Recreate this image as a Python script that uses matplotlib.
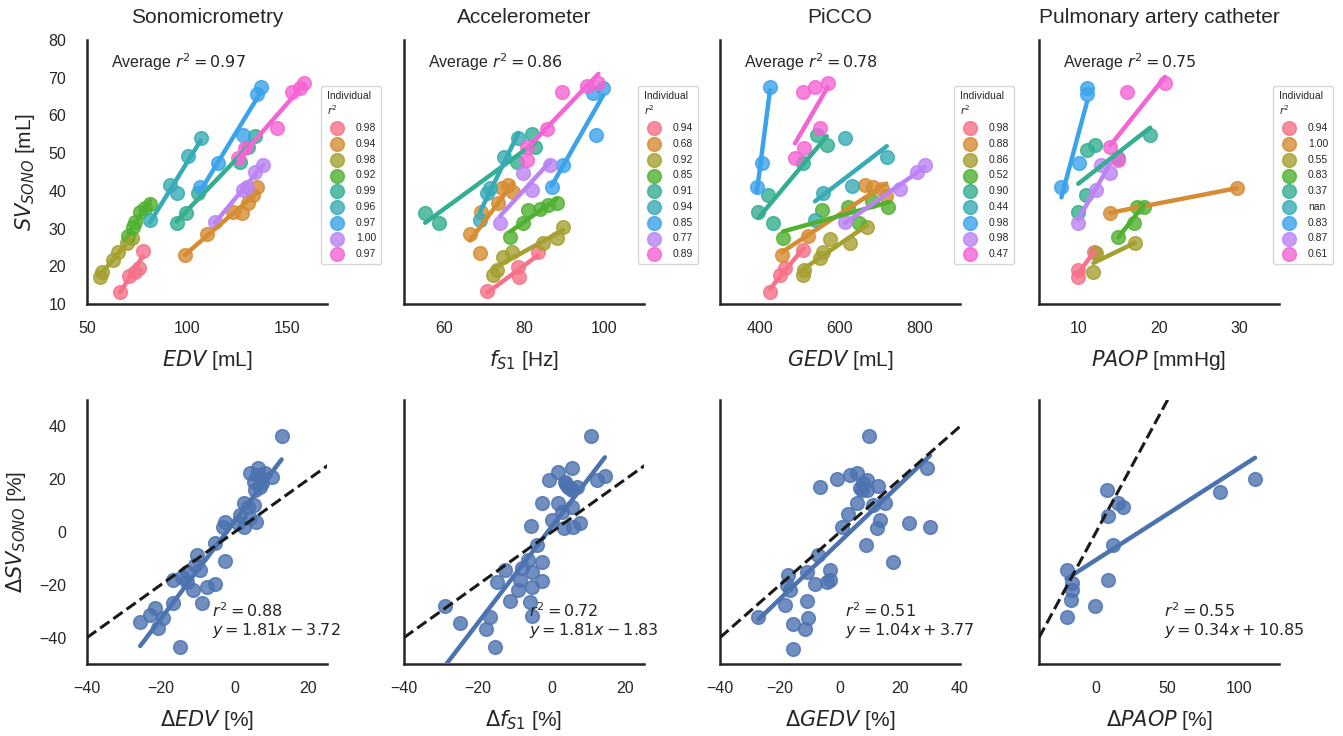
import numpy as np
import matplotlib
matplotlib.use('Agg')
import matplotlib.pyplot as plt
import seaborn as sns

sns.set_theme(style='white')
plt.rcParams['font.family'] = ['Liberation Sans', 'DejaVu Sans']
plt.rcParams['axes.unicode_minus'] = True

# stroke volume per subject (sonomicrometry), one list per subject and method
edv_x = [[66.5, 71.2, 74, 75.8, 77.8],
         [99, 109.8, 123.2, 127.3, 130.7, 133.2, 134.8],
         [56.5, 57.3, 63.2, 65.7, 69.8, 72.3],
         [70.7, 73.2, 74, 76.5, 79, 81.5],
         [94.8, 99.5, 105.7, 126.5, 130.7, 134],
         [81.5, 91.5, 94.8, 100.7, 106.8],
         [106.5, 115.7, 127.8, 134.8, 136.8],
         [114, 128.2, 130, 134, 138.2],
         [125.7, 129, 144.8, 152.3, 156.5, 158.5]]
edv_y = [[13.3, 17.4, 18.6, 19.5, 24.1],
         [23.0, 28.6, 34.5, 34.0, 36.7, 38.9, 41.1],
         [17.2, 18.5, 21.7, 23.9, 26.1, 27.4],
         [27.9, 30.5, 31.8, 34.5, 35.4, 36.5],
         [31.4, 34.2, 39.4, 47.7, 51.7, 54.6],
         [32.3, 41.6, 39.4, 49.2, 53.9],
         [41.1, 47.3, 54.8, 65.7, 67.5],
         [31.8, 40.2, 41.0, 45.1, 46.9],
         [48.6, 51.3, 56.6, 66.3, 67.2, 68.5]]
edv_r2 = ['0.98', '0.94', '0.98', '0.92', '0.99', '0.96', '0.97', '1.00', '0.97']

fs1_x = [[70.8, 78.6, 78.8, 83.6],
         [66.5, 69, 69.3, 73.6, 74.4, 76.1, 77.3],
         [72.3, 73.2, 74.8, 76.9, 84.8, 88.2, 89.8],
         [76.5, 79.8, 81.1, 84, 86.1, 88.2],
         [55.3, 58.8, 78.2, 81.9, 82.8],
         [69, 70.8, 71.5, 75, 78.6],
         [86.9, 89.8, 98, 97.2, 99.8],
         [74, 81.9, 79.8, 86.5],
         [80.7, 80.7, 85.7, 89.4, 95.7, 98.6]]
fs1_y = [[13.5, 19.7, 17.2, 23.9],
         [28.6, 23.4, 34.5, 36.7, 40.7, 41.6, 39.8],
         [17.7, 19.0, 22.5, 23.9, 26.1, 27.4, 30.5],
         [27.7, 31.4, 34.9, 35.3, 36.3, 36.7],
         [34.2, 31.4, 47.7, 55.1, 51.7],
         [32.3, 39.4, 40.7, 49.1, 53.9],
         [41.1, 46.9, 54.8, 65.9, 67.2],
         [31.6, 40.2, 44.7, 46.9],
         [51.7, 48.2, 56.3, 66.3, 67.8, 68.5]]
fs1_r2 = ['0.94', '0.68', '0.92', '0.85', '0.91', '0.94', '0.85', '0.77', '0.89']

gedv_x = [[425, 450, 462.5, 508],
          [454, 519, 662.5, 683, 704, 716],
          [508, 510, 550, 558, 575, 625, 667],
          [458, 554, 619, 647.5, 679, 721],
          [421, 396, 433, 508, 542, 567],
          [612.5, 537.5, 558, 629, 717],
          [425, 404, 392],
          [612.5, 750, 792, 812.5],
          [508, 537.5, 569, 550, 511, 487.5]]
gedv_y = [[13.3, 17.7, 19.5, 24.3],
          [23.0, 28.0, 41.6, 41.1, 40.5, 38.6],
          [17.7, 19.0, 22.1, 23.9, 27.2, 26.1, 30.5],
          [27.4, 34.9, 35.8, 31.4, 37.4, 35.8],
          [38.9, 34.5, 31.4, 47.3, 54.8, 52.2],
          [53.9, 32.3, 39.4, 41.3, 49.1],
          [67.5, 47.3, 41.1],
          [31.8, 40.4, 45.1, 46.9],
          [66.3, 67.5, 68.7, 56.6, 51.3, 48.6]]
gedv_r2 = ['0.98', '0.88', '0.86', '0.52', '0.90', '0.44', '0.98', '0.98', '0.47']

paop_x = [[9.9, 9.9, 11.9],
          [13.9, 29.7],
          [11.8, 12.1, 17],
          [14.9, 16.9, 17.2, 18.1],
          [9.9, 10.9, 11.0, 12.0, 18.9],
          [14.9],
          [11.0, 11.0, 10.0, 7.8],
          [9.9, 12.1, 12.8, 13.9],
          [16.0, 13.9, 14.9, 20.75]]
paop_y = [[19.0, 17.2, 23.9],
          [34.2, 40.7],
          [18.6, 23.6, 26.1],
          [27.7, 31.4, 35.8, 35.8],
          [34.5, 38.9, 50.8, 52.2, 54.8],
          [48.6],
          [67.2, 65.7, 47.3, 40.9],
          [31.6, 40.2, 46.9, 44.7],
          [66.3, 51.5, 48.2, 68.5]]
paop_r2 = ['0.94', '1.00', '0.55', '0.83', '0.37', 'nan', '0.83', '0.87', '0.61']

# pooled relative changes [%]
d_edv = [12.7, 4.1, 6.4, 8.2, 10.0, 5.1, 6.9, 5.5, 7.5, 2.4, 3.7, 5.1, 1.4, 1.0, 4.1, 5.9,
         2.4, -2.6, -3.1, -5.3, -2.6, -10.3, -10.7, -9.4, -13.0, -14.3, -16.6, -13.0,
         -11.2, -7.6, -5.3, -8.9, -16.6, -21.6, -22.9, -25.6, -19.3, -20.7, -14.8, 7.0, 6.0]
d_sv1 = [36.4, 22.2, 24.1, 22.2, 20.7, 19.1, 17.2, 16.0, 18.5, 10.9, 9.6, 10.2, 6.4, 3.3, 5.2, 3.9,
         2.0, 3.9, 2.0, -4.3, -10.9, -8.8, -12.6, -14.5, -15.2, -17.0, -18.3, -18.9,
         -22.1, -20.8, -19.6, -26.9, -26.9, -28.8, -31.4, -34.0, -32.7, -36.5, -43.4, 20.5, 21.5]

d_fs1 = [10.6, -0.7, 1.6, 5.4, 3.6, 4.5, 5.4, 6.8, 12.2, 14.4, -2.7, 1.8, 5.4, 2.7, 0.0, 3.2,
         5.9, 7.7, -5.5, -4.0, -6.3, -2.7, -8.1, -12.6, -5.4, -8.6, -5.4, -2.7, -14.8, -9.0,
         -11.3, -5.9, -5.4, -16.6, -17.9, -24.7, -28.9, -15.3, 4.0, 5.0]
d_sv2 = [36.4, 19.7, 22.8, 24.1, 19.1, 17.2, 16.0, 17.2, 19.7, 21.2, 10.9, 10.9, 9.6, 7.7, 4.5, 1.4,
         2.0, 3.3, 2.3, -4.9, -10.6, -11.3, -13.8, -14.5, -15.2, -18.3, -20.8, -18.6, -18.9, -22.1,
         -26.0, -26.6, -31.7, -32.3, -36.7, -34.6, -27.9, -43.6, 18.0, 16.5]

d_gedv = [9.8, 28.9, 3.3, 5.6, -1.1, -6.7, 8.9, 7.2, 8.9, 12.8, 5.6, 11.1, 15.0, 2.8, 13.3, 12.2,
          23.1, 30.0, 0.6, 8.7, 17.6, -7.2, -11.1, -17.2, -17.8, -16.7, -8.3, -4.4, -3.3, -3.3,
          -18.3, -11.1, -27.2, -10.6, -15.6, -11.7, -15.8, 7.5, 6.5]
d_sv3 = [36.4, 24.1, 21.6, 22.2, 19.9, 17.2, 19.7, 16.0, 16.0, 17.5, 10.9, 10.2, 10.9, 6.9, 4.4, 1.4,
         3.5, 2.0, 2.0, -4.9, -11.3, -8.8, -15.2, -16.4, -20.2, -21.9, -19.6, -18.9, -14.5, -18.3,
         -27.8, -26.2, -32.1, -32.7, -34.7, -36.9, -44.5, 18.5, 16.8]

d_paop = [111.2, 86.7, 7.4, 15.5, 19.0, 8.5, 12.0, -20.7, -17.2, -17.2, 8.5, -17.9, -0.9, -20.2]
d_sv4 = [20.0, 15.3, 15.9, 10.9, 9.6, 6.1, -4.9, -14.3, -19.3, -21.9, -18.1, -25.9, -27.9, -32.3]

titles = ['Sonomicrometry', 'Accelerometer', 'PiCCO', 'Pulmonary artery catheter']
avg_r2 = ['0.97', '0.86', '0.78', '0.75']
top_xlabels = ['$EDV$ [mL]', '$f_{S1}$ [Hz]', '$GEDV$ [mL]', '$PAOP$ [mmHg]']
bot_xlabels = [r'$\Delta EDV$ [%]', r'$\Delta f_{S1}$ [%]', r'$\Delta GEDV$ [%]', r'$\Delta PAOP$ [%]']
fit_text = [(0.88, '1.81x - 3.72'), (0.72, '1.81x - 1.83'), (0.51, '1.04x + 3.77'), (0.55, '0.34x + 10.85')]

top_x = [edv_x, fs1_x, gedv_x, paop_x]
top_y = [edv_y, fs1_y, gedv_y, paop_y]
top_r2 = [edv_r2, fs1_r2, gedv_r2, paop_r2]
top_xlim = [(50, 170), (50, 110), (300, 900), (5, 35)]
top_xticks = [[50, 100, 150], [60, 80, 100], [400, 600, 800], [10, 20, 30]]
bot_x = [d_edv, d_fs1, d_gedv, d_paop]
bot_y = [d_sv1, d_sv2, d_sv3, d_sv4]
bot_xlim = [(-40, 25), (-40, 25), (-40, 40), (-40, 128)]
bot_xticks = [[-40, -20, 0, 20], [-40, -20, 0, 20], [-40, -20, 0, 20, 40], [0, 50, 100]]

pal = sns.color_palette('husl', 9)
blue = sns.color_palette('deep')[0]

fig = plt.figure(figsize=(13.43, 7.36), dpi=100)
lefts = [87, 404, 720, 1039]
W, H = 1343., 736.


def style(ax):
    sns.despine(ax=ax)
    for s in ['left', 'bottom']:
        ax.spines[s].set_linewidth(1.8)
        ax.spines[s].set_color('#262626')
    ax.tick_params(axis='x', labelsize=11.5, pad=6)
    ax.tick_params(axis='y', labelsize=11.5, pad=9)


for c in range(4):
    ax = fig.add_axes([lefts[c] / W, 1 - 304 / H, 240 / W, 264 / H])
    for i in range(9):
        x = np.array(top_x[c][i])
        y = np.array(top_y[c][i])
        ax.scatter(x, y, s=95, color=pal[i], alpha=0.8, edgecolor=pal[i], lw=1.2,
                   label=top_r2[c][i], zorder=2)
        if len(x) > 1 and top_r2[c][i] != 'nan':
            k, b = np.polyfit(x, y, 1)
            xx = np.array([x.min(), x.max()])
            ax.plot(xx, k * xx + b, color=pal[i], lw=3.2, zorder=3)
    ax.set_xlim(top_xlim[c])
    ax.set_ylim(10, 80)
    ax.set_xticks(top_xticks[c])
    ax.set_yticks(np.arange(10, 81, 10))
    if c > 0:
        ax.set_yticklabels([])
    else:
        ax.set_ylabel('$SV_{SONO}$ [mL]', fontsize=15, labelpad=8)
    ax.set_title(titles[c], fontsize=15, pad=12)
    ax.set_xlabel(top_xlabels[c], fontsize=15, labelpad=9)
    ax.text(0.1, 0.915, 'Average $r^2 = %s$' % avg_r2[c], transform=ax.transAxes,
            fontsize=11.5, va='center')
    ax.legend(title='Individual\n$r^2$', loc='upper left', bbox_to_anchor=(0.955, 0.845),
              fontsize=7.5, title_fontsize=7.5, alignment='left', frameon=True,
              labelspacing=0.55, handletextpad=0.8, borderpad=0.5)
    style(ax)

    bx = fig.add_axes([lefts[c] / W, 1 - 664 / H, 240 / W, 264 / H])
    x = np.array(bot_x[c])
    y = np.array(bot_y[c])
    bx.plot([-40, 130], [-40, 130], 'k--', lw=2.2, zorder=4)
    bx.scatter(x, y, s=95, color=blue, alpha=0.8, edgecolor=blue, lw=1.2, zorder=2)
    k, b = np.polyfit(x, y, 1)
    xx = np.array([x.min(), x.max()])
    bx.plot(xx, k * xx + b, color=blue, lw=3.2, zorder=3)
    bx.set_xlim(bot_xlim[c])
    bx.set_ylim(-50, 50)
    bx.set_xticks(bot_xticks[c])
    bx.set_yticks([-40, -20, 0, 20, 40])
    if c > 0:
        bx.set_yticklabels([])
    else:
        bx.set_ylabel(r'$\Delta SV_{SONO}$ [%]', fontsize=15, labelpad=8)
    bx.set_xlabel(bot_xlabels[c], fontsize=15, labelpad=9)
    r2, eq = fit_text[c]
    bx.text(0.52, 0.09, '$r^2 = %.2f$\n$y = %s$' % (r2, eq), transform=bx.transAxes,
            fontsize=11.5, va='bottom', ha='left', family='DejaVu Sans', linespacing=1.1)
    style(bx)

fig.savefig('out.png', dpi=100)
